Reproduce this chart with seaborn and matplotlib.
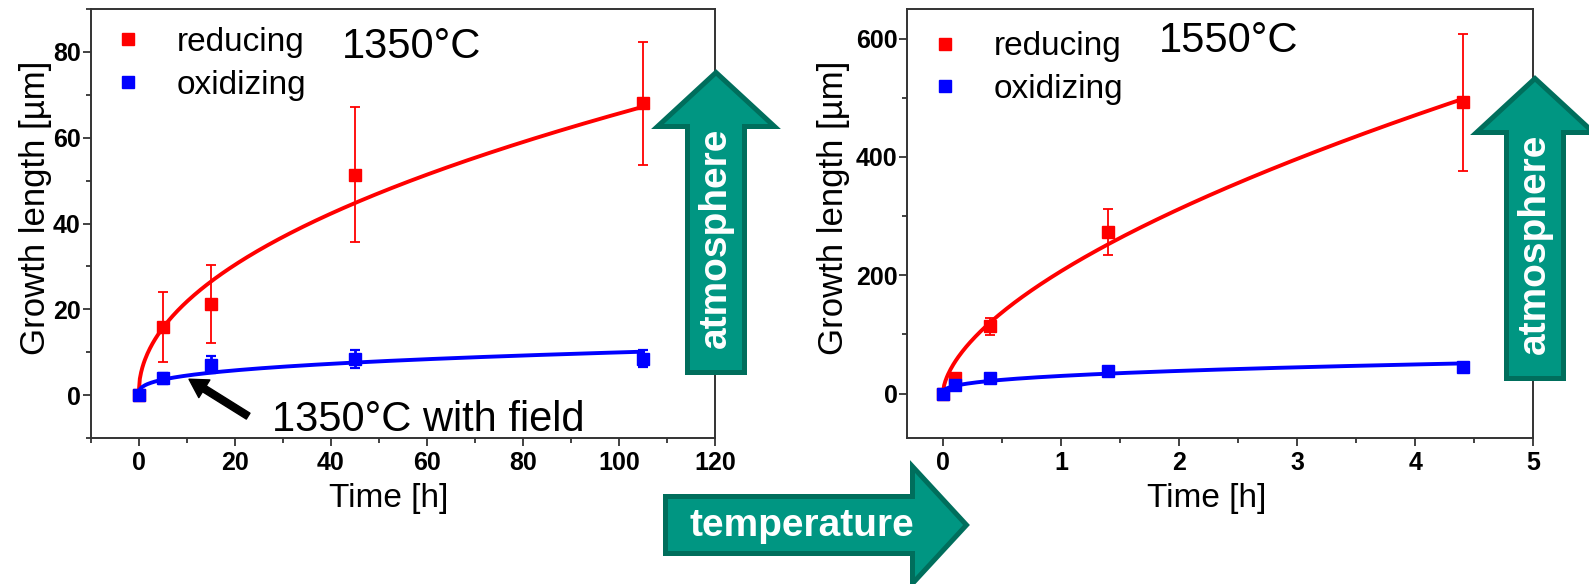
import numpy as np
import pandas as pd
import matplotlib
matplotlib.use("Agg")
import matplotlib.pyplot as plt
import seaborn as sns
from matplotlib.patches import Polygon
from matplotlib.lines import Line2D
from matplotlib.ticker import MultipleLocator

# ---------------- data ----------------
t_1350 = [0, 5, 15, 45, 105]
reducing_1350 = [0, 15.9, 21.3, 51.4, 68.0]
reducing_1350_err = [0, 8.2, 9.1, 15.8, 14.3]
oxidizing_1350 = [0, 3.9, 7.1, 8.5, 8.5]
oxidizing_1350_err = [0, 1.3, 2.0, 2.1, 1.9]

t_1550 = [0, 0.1, 0.4, 1.4, 4.4]
reducing_1550 = [0, 26, 113.6, 273, 492]
reducing_1550_err = [0, 0, 14, 39, 115.5]
oxidizing_1550 = [0, 14.5, 26, 38, 45]
oxidizing_1550_err = [0, 3, 3, 3, 3]

# power-law fit curves  k * t**n
fit_reducing_1350 = (7.2, 0.48)
fit_oxidizing_1350 = (2.08, 0.34)
fit_reducing_1550 = (206.8, 0.593)
fit_oxidizing_1550 = (29.9, 0.361)

series_labels = ["reducing", "oxidizing"]
panel_titles = ["1350°C", "1550°C"]
annotation_text = "1350°C with field"
arrow_labels = ["atmosphere", "temperature"]

# ---------------- style ----------------
sns.set_theme(style="ticks")
plt.rcParams["font.family"] = ["Liberation Sans", "DejaVu Sans"]
plt.rcParams["axes.edgecolor"] = "#333333"
plt.rcParams["axes.linewidth"] = 1.4
plt.rcParams["text.color"] = "black"
plt.rcParams["axes.labelcolor"] = "black"
plt.rcParams["xtick.labelcolor"] = "black"
plt.rcParams["ytick.labelcolor"] = "black"

W, H = 1589, 584
fig = plt.figure(figsize=(W / 100, H / 100), dpi=100)

def fx(px):
    return px / W

def fy(py):
    return 1 - py / H

ax1 = fig.add_axes([fx(90.5), fy(438), 624.8 / W, 429 / H])
ax2 = fig.add_axes([fx(907.4), fy(438), 626 / W, 429 / H])

RED = "#ff0000"
BLUE = "#0000ff"


def draw_panel(ax, t, red, red_err, blue, blue_err, fit_r, fit_b):
    tt = np.linspace(0, max(t), 400)
    df = pd.DataFrame({"t": tt,
                       "red": fit_r[0] * tt ** fit_r[1],
                       "blue": fit_b[0] * tt ** fit_b[1]})
    sns.lineplot(data=df, x="t", y="red", ax=ax, color=RED, lw=2.8, zorder=3)
    ax.errorbar(t, red, yerr=red_err, fmt="s", color=RED, ms=8.5,
                elinewidth=1.3, capsize=3.5, capthick=1.3, zorder=4)
    sns.lineplot(data=df, x="t", y="blue", ax=ax, color=BLUE, lw=2.8, zorder=5)
    ax.errorbar(t, blue, yerr=blue_err, fmt="s", color=BLUE, ms=8.5,
                elinewidth=2.0, capsize=3.5, capthick=1.6, zorder=6)


draw_panel(ax1, t_1350, reducing_1350, reducing_1350_err,
           oxidizing_1350, oxidizing_1350_err, fit_reducing_1350, fit_oxidizing_1350)
draw_panel(ax2, t_1550, reducing_1550, reducing_1550_err,
           oxidizing_1550, oxidizing_1550_err, fit_reducing_1550, fit_oxidizing_1550)

ax1.set_xlim(-10, 120)
ax1.set_ylim(-10, 90)
ax1.xaxis.set_major_locator(MultipleLocator(20))
ax1.xaxis.set_minor_locator(MultipleLocator(10))
ax1.yaxis.set_major_locator(MultipleLocator(20))
ax1.yaxis.set_minor_locator(MultipleLocator(10))

ax2.set_xlim(-0.3, 5)
ax2.set_ylim(-75, 650)
ax2.xaxis.set_major_locator(MultipleLocator(1))
ax2.xaxis.set_minor_locator(MultipleLocator(0.5))
ax2.yaxis.set_major_locator(MultipleLocator(200))
ax2.yaxis.set_minor_locator(MultipleLocator(100))

for ax, title, ty, ly in [(ax1, panel_titles[0], 0.886, 0.958), (ax2, panel_titles[1], 0.900, 0.948)]:
    ax.set_xlabel("Time [h]", fontsize=24, color="black")
    ax.set_ylabel("Growth length [µm]", fontsize=25, color="black")
    ax.tick_params(which="major", direction="out", length=6, width=1.3,
                   labelsize=18, colors="#333333", labelcolor="black")
    ax.tick_params(which="minor", direction="out", length=3.5, width=1.3, colors="#333333")
    ax.tick_params(axis="x", which="major", pad=3)
    ax.tick_params(axis="y", which="major", pad=1)
    for lab in ax.get_xticklabels() + ax.get_yticklabels():
        lab.set_fontweight("bold")
    ax.xaxis.set_label_coords(0.478, -0.105)
    ax.text(0.402, ty, title, transform=ax.transAxes, fontsize=30, va="baseline",
            ha="left", color="black")
    handles = [Line2D([], [], marker="s", ls="none", color=RED, ms=8.5),
               Line2D([], [], marker="s", ls="none", color=BLUE, ms=8.5)]
    leg = ax.legend(handles, series_labels, loc="upper left", bbox_to_anchor=(0.034, ly),
                    frameon=False, fontsize=24, handlelength=1.0, handletextpad=0.95,
                    borderaxespad=0, borderpad=0, labelspacing=0.35)
    for txt in leg.get_texts():
        txt.set_color("black")

ax1.yaxis.set_label_coords(-0.062, 0.537)
ax2.yaxis.set_label_coords(-0.092, 0.537)

# black annotation arrow and text in the left panel
ax1.annotate("", xy=(10.5, 3.7), xytext=(22.8, -4.9),
             arrowprops=dict(facecolor="black", edgecolor="black", width=5,
                             headwidth=15, headlength=13, shrink=0), zorder=7)
ax1.text(27.8, -8.4, annotation_text, fontsize=30, va="baseline", ha="left",
         color="black", zorder=7)

# ---------------- teal block arrows ----------------
FILL = "#009682"
EDGE = "#006E5C"
inset = 2.5


def up_arrow(cx, tip, hb, hw, sw, bottom):
    pts = [(cx - sw + inset, bottom - inset), (cx - sw + inset, hb - inset),
           (cx - hw + inset + 1, hb - inset), (cx, tip + inset + 1),
           (cx + hw - inset - 1, hb - inset), (cx + sw - inset, hb - inset),
           (cx + sw - inset, bottom - inset)]
    return [(fx(x), fy(y)) for x, y in pts]


def right_arrow(cy, left, hb, tip, hw, sw):
    pts = [(left + inset, cy - sw + inset), (hb + inset, cy - sw + inset),
           (hb + inset, cy - hw + inset + 1), (tip - inset - 1, cy),
           (hb + inset, cy + hw - inset - 1), (hb + inset, cy + sw - inset),
           (left + inset, cy + sw - inset)]
    return [(fx(x), fy(y)) for x, y in pts]


for verts in [up_arrow(716, 69, 129, 62, 31, 375),
              up_arrow(1535, 75, 135, 62, 31, 381),
              right_arrow(525, 663, 910, 970, 62, 31)]:
    fig.add_artist(Polygon(verts, closed=True, facecolor=FILL, edgecolor=EDGE,
                           linewidth=3.6, transform=fig.transFigure, zorder=10))

fig.text(fx(716), fy(238), arrow_labels[0], rotation=90, color="white", fontsize=28,
         fontweight="bold", ha="center", va="center", zorder=11)
fig.text(fx(1535), fy(244), arrow_labels[0], rotation=90, color="white", fontsize=28,
         fontweight="bold", ha="center", va="center", zorder=11)
fig.text(fx(802), fy(526), arrow_labels[1], color="white", fontsize=28,
         fontweight="bold", ha="center", va="center", zorder=11)

fig.savefig("out.png", dpi=100)
